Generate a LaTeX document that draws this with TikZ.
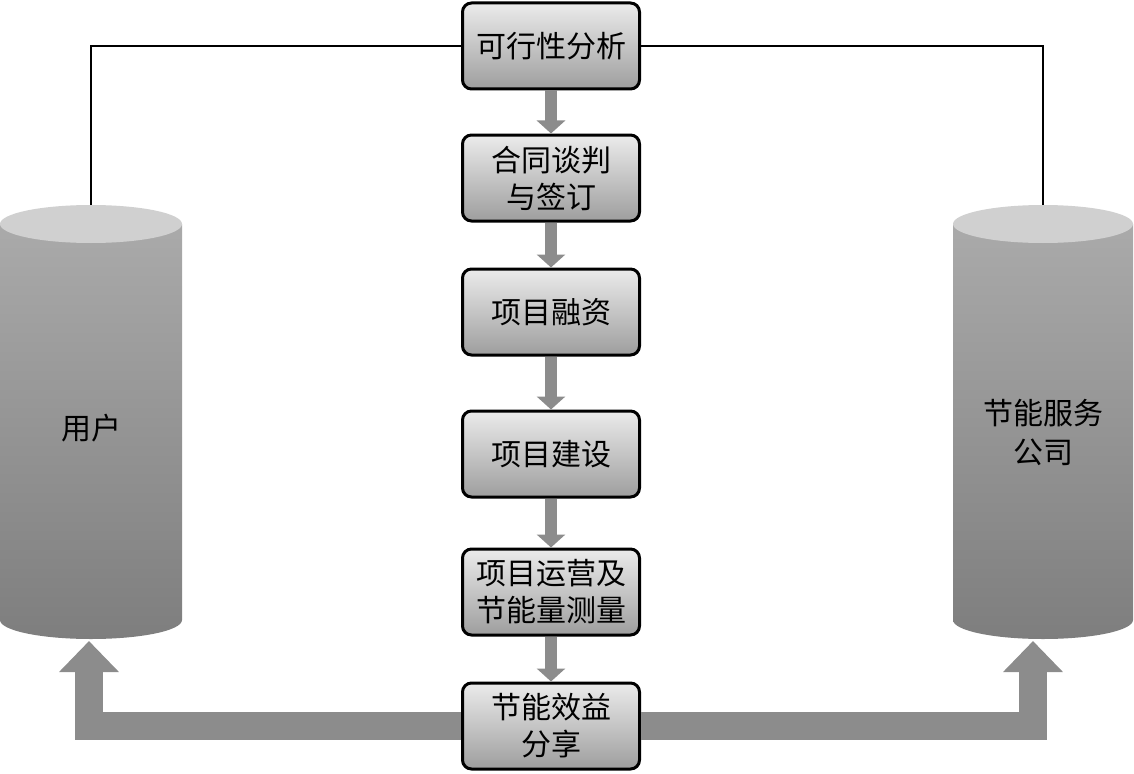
\documentclass[tikz,border=0pt]{standalone}
\usepackage{fontspec}
\newfontfamily\cjk{Noto Sans CJK SC}
\usetikzlibrary{arrows.meta}
\definecolor{boxtop}{HTML}{EBEBEB}
\definecolor{boxbot}{HTML}{9E9E9E}
\definecolor{cyltop}{HTML}{D0D0D0}
\definecolor{cylA}{HTML}{AAAAAA}
\definecolor{cylB}{HTML}{7E7E7E}
\definecolor{arr}{HTML}{8C8C8C}
\tikzset{
 stepbox/.style={draw=black, line width=3pt, rounded corners=9pt, top color=boxtop, bottom color=boxbot, minimum width=177pt, minimum height=86pt, align=center, font=\cjk\fontsize{30}{37}\selectfont, inner sep=0pt},
 flow/.style={draw=arr, line width=12pt, -{Triangle[width=28pt,length=13pt]}},
 big/.style={draw=arr, line width=28pt, line join=miter, -{Triangle[width=58pt,length=31pt]}},
 link/.style={draw=black, line width=1.3pt},
 cyltext/.style={font=\cjk\fontsize{30}{39}\selectfont, align=center},
}
\begin{document}
\begin{tikzpicture}[x=1pt,y=-1pt]
\useasboundingbox (0,0) rectangle (1134,773);
% cylinders
\shade[top color=cylA, bottom color=cylB] (0,224) -- (0,620) arc[start angle=180,end angle=0,x radius=91,y radius=19] -- (182,224) -- cycle;
\fill[cyltop] (91,224) ellipse[x radius=91, y radius=19];
\shade[top color=cylA, bottom color=cylB] (953,224) -- (953,620) arc[start angle=180,end angle=0,x radius=90,y radius=19] -- (1133,224) -- cycle;
\fill[cyltop] (1043,224) ellipse[x radius=90, y radius=19];
\node[cyltext] (user) at (91,428) {用户};
\node[cyltext] (esco) at (1043,432) {节能服务\\公司};
\coordinate (usertop) at (91,205);
\coordinate (userbot) at (89,641);
\coordinate (escotop) at (1043,205);
\coordinate (escobot) at (1033,641);
% steps
\node[stepbox] (b1) at (551,46) {可行性分析};
\node[stepbox] (b2) at (551,178) {合同谈判\\与签订};
\node[stepbox] (b3) at (551,312) {项目融资};
\node[stepbox] (b4) at (551,454) {项目建设};
\node[stepbox] (b5) at (551,592) {项目运营及\\节能量测量};
\node[stepbox] (b6) at (551,726) {节能效益\\分享};
% flow arrows
\draw[flow] (b1.south) -- (b2.north);
\draw[flow] (b2.south) -- (b3.north);
\draw[flow] (b3.south) -- (b4.north);
\draw[flow] (b4.south) -- (b5.north);
\draw[flow] (b5.south) -- (b6.north);
% links
\draw[link] (b1.west) -| (usertop);
\draw[link] (b1.east) -| (escotop);
% big arrows
\draw[big] (b6.west) -| (userbot);
\draw[big] (b6.east) -| (escobot);
\end{tikzpicture}
\end{document}
